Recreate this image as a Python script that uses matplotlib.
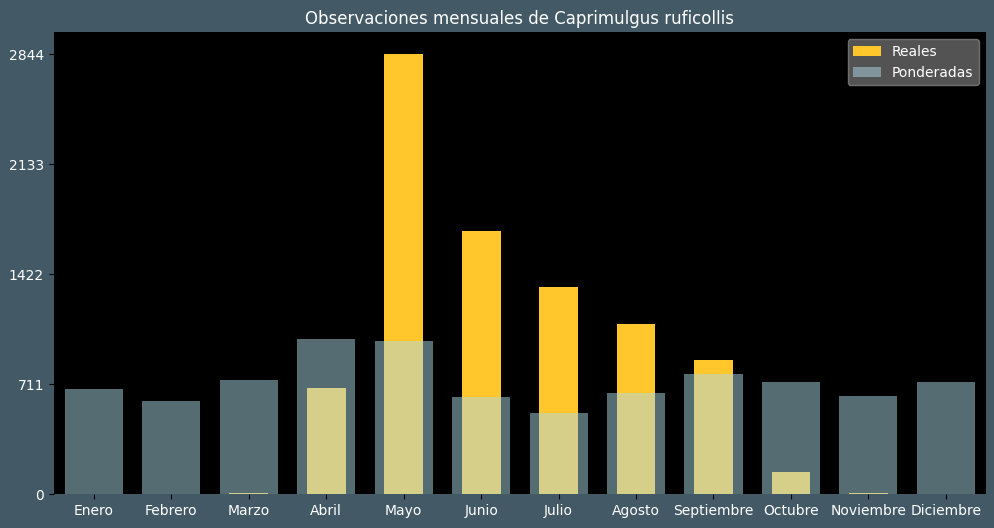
import matplotlib
matplotlib.use("Agg")
import matplotlib.pyplot as plt
import numpy as np

# datos
meses = ["Enero", "Febrero", "Marzo", "Abril", "Mayo", "Junio", "Julio",
         "Agosto", "Septiembre", "Octubre", "Noviembre", "Diciembre"]
reales = [0, 0, 6, 685, 2844, 1700, 1338, 1099, 866, 142, 6, 0]
ponderadas = [679, 601, 737, 1002, 989, 627, 524, 653, 776, 724, 633, 724]

fondo = "#435a66"

fig, ax = plt.subplots(figsize=(9.94, 5.28), dpi=100)
fig.patch.set_facecolor(fondo)
ax.set_facecolor("black")

x = np.arange(len(meses))
ax.bar(x, reales, width=0.5, color="#FFC72C", label="Reales")
ax.bar(x, ponderadas, width=0.75, color="lightblue", alpha=0.5, label="Ponderadas")

maximo = max(reales)
ax.set_ylim(0, maximo * 1.05)
ax.set_xlim(-0.52, len(meses) - 0.48)
ticks = [round(maximo * i / 4) for i in range(5)]
ax.set_yticks(ticks)
ax.set_xticks(x)
ax.set_xticklabels(meses)
ax.tick_params(colors="black", labelcolor="white", labelsize=10)
for s in ax.spines.values():
    s.set_visible(False)

ax.set_title("Observaciones mensuales de Caprimulgus ruficollis", color="white", fontsize=12)
leg = ax.legend(loc="upper right", facecolor="dimgray", edgecolor="gray", framealpha=0.8)
for t in leg.get_texts():
    t.set_color("white")

plt.subplots_adjust(left=0.054, right=0.992, top=0.939, bottom=0.064)
plt.savefig("out.png", facecolor=fondo)
